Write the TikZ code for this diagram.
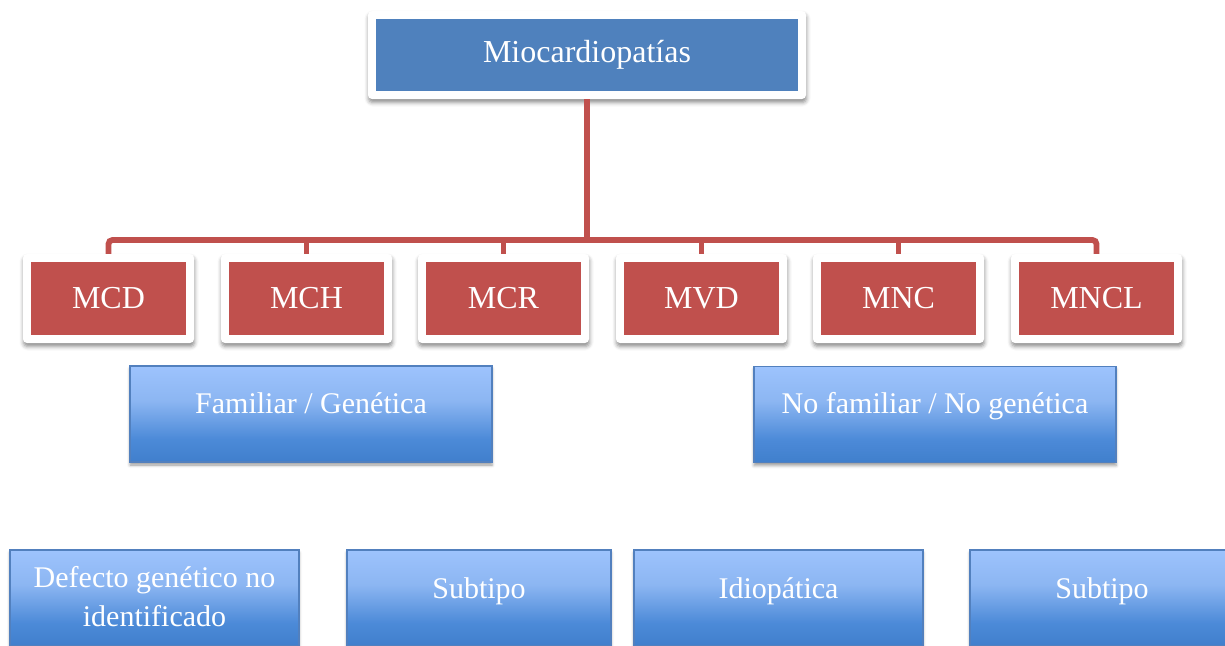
\documentclass[tikz,border=0pt]{standalone}
\usepackage{fontspec}
\setmainfont{Liberation Serif}
\usetikzlibrary{shadows.blur}

\definecolor{cred}{RGB}{192,80,77}
\definecolor{cblue}{RGB}{79,129,189}
\definecolor{gtop}{RGB}{157,195,253}
\definecolor{gmid}{RGB}{140,182,242}
\definecolor{glow}{RGB}{76,138,216}
\definecolor{gbot}{RGB}{64,127,204}
\definecolor{gedge}{RGB}{82,128,190}

% light-to-dark blue fill of the category cards (path spans 25bp..75bp)
\pgfdeclareverticalshading{cardgrad}{100bp}{color(0bp)=(gbot); color(25bp)=(gbot); color(37bp)=(glow); color(57bp)=(gmid); color(75bp)=(gtop); color(100bp)=(gtop)}

\tikzset{
  framed/.style={rectangle, rounded corners=4pt, fill=white, inner sep=0pt,
    blur shadow={shadow xshift=0.5pt, shadow yshift=-3.5pt, shadow blur radius=4pt, shadow opacity=45}},
  inner fill/.style={path picture={\fill[#1, sharp corners]
      ([shift={(8pt,8pt)}]path picture bounding box.south west) rectangle
      ([shift={(-8pt,-8pt)}]path picture bounding box.north east);}},
  headbox/.style={framed, inner fill=cblue, minimum width=438pt, minimum height=88pt,
    text=white, font=\fontsize{32}{38}\selectfont},
  typebox/.style={framed, inner fill=cred, minimum width=171pt, minimum height=89pt,
    text=white, font=\fontsize{32}{38}\selectfont},
  card/.style={rectangle, draw=gedge, line width=1.2pt, shading=cardgrad, inner sep=0pt,
    minimum height=96pt,
    blur shadow={shadow xshift=0pt, shadow yshift=-3pt, shadow blur radius=3pt, shadow opacity=40}},
  cardtext/.style={text=white, font=\fontsize{30}{39}\selectfont, align=center, inner sep=0pt, anchor=base},
  bus/.style={draw=cred, line width=5.8pt, rounded corners=4pt}
}

\begin{document}
\begin{tikzpicture}[x=1pt, y=-1pt]
\useasboundingbox (0,0) rectangle (1225,645);
\begin{scope}
\clip (0,0) rectangle (1225,645);

% root
\node[headbox] (root) at (587,55) {Miocardiopatías};

% cardiomyopathy types
\node[typebox] (mcd)  at (108.5,298.5)  {MCD};
\node[typebox] (mch)  at (306.5,298.5)  {MCH};
\node[typebox] (mcr)  at (503.5,298.5)  {MCR};
\node[typebox] (mvd)  at (701.5,298.5)  {MVD};
\node[typebox] (mnc)  at (898.5,298.5)  {MNC};
\node[typebox] (mncl) at (1096.5,298.5) {MNCL};

% origin cards
\node[card, minimum width=362pt] (fam)   at (311,414) {};
\node[cardtext] (famtxt) at (311,413) {Familiar / Genética};
\node[card, minimum width=362pt] (nofam) at (935,414.5) {};
\node[cardtext] (nofamtxt) at (935,413) {No familiar / No genética};

% sub-classification cards (multi-line text: base anchor is the last line)
\node[card, minimum width=289pt] (defecto) at (154.5,598) {};
\node[cardtext] (defectotxt) at (154.5,626) {Defecto genético no\\identificado};
\node[card, minimum width=264pt] (subA) at (479,598) {};
\node[cardtext] (subAtxt) at (479,598) {Subtipo};
\node[card, minimum width=289pt] (idio) at (778.5,598) {};
\node[cardtext] (idiotxt) at (778.5,598) {Idiopática};
\node[card, minimum width=264pt] (subB) at (1102,598) {};
\node[cardtext] (subBtxt) at (1102,598) {Subtipo};

% connectors
\coordinate (hub) at (587,240);
\draw[bus] (mcd.north) |- (hub) -| (mncl.north);
\draw[bus] (root.south) -- (hub);
\foreach \n in {mch,mcr,mvd,mnc}
  \draw[bus] (\n.north) -- (\n.north |- hub);
\end{scope}
\end{tikzpicture}
\end{document}
